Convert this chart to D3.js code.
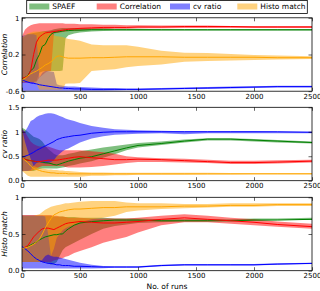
<!DOCTYPE html>
<html><head><meta charset="utf-8">
<script src="https://cdn.jsdelivr.net/npm/d3@7"></script>
<style>body{margin:0;background:#fff}svg{display:block}text{font-family:"DejaVu Sans",sans-serif}</style>
</head><body><svg id="c" width="320" height="291"></svg>
<script>
const runs = [0,25,50,75,100,125,150,175,200,225,250,275,300,325,350,375,400,450,500,600,700,800,900,1000,1200,1400,1600,1800,2000,2200,2500];
const seriesNames = ["SPAEF","Correlation","cv ratio","Histo match"];
const seriesColors = ["#008000","#ff0000","#0000ff","#ffa500"];
const panelLabels = ["Correlation","cv ratio","Histo match"];
const xTicks = [0,500,1000,1500,2000,2500];
const yTicks1 = [-0.6,0.2,1], yTickLabels1 = ["-0.6","0.2","1"];
const yTicks2 = [0,0.5,1,1.5], yTickLabels2 = ["0.0","0.5","1","1.5"];
const yTicks3 = [0,0.5,1], yTickLabels3 = ["0.0","0.5","1"];
const yDomain1 = [-0.6,1], yDomain2 = [0,1.5], yDomain3 = [0,1];

// Panel 1: Correlation
const corrSpaefMed = [-0.33,-0.3,-0.26,-0.15,-0.1,0.08,0.2,0.38,0.42,0.55,0.64,0.68,0.69,0.7,0.71,0.72,0.72,0.73,0.73,0.74,0.74,0.74,0.74,0.74,0.74,0.74,0.74,0.74,0.74,0.74,0.74];
const corrSpaefLo = [-0.4,-0.4,-0.4,-0.4,-0.4,-0.38,-0.2,-0.17,-0.16,-0.16,-0.16,-0.16,-0.16,-0.16,-0.15,0.55,0.62,0.66,0.68,0.7,0.71,0.72,0.72,0.72,0.72,0.72,0.72,0.72,0.72,0.72,0.72];
const corrSpaefHi = [0.55,0.6,0.64,0.66,0.67,0.68,0.69,0.7,0.71,0.72,0.73,0.75,0.76,0.77,0.78,0.78,0.78,0.78,0.78,0.77,0.77,0.76,0.76,0.76,0.75,0.75,0.75,0.75,0.75,0.75,0.75];
const corrCorrMed = [-0.32,-0.3,-0.28,-0.15,0.2,0.47,0.58,0.63,0.67,0.68,0.69,0.7,0.71,0.72,0.73,0.74,0.75,0.76,0.77,0.78,0.79,0.79,0.79,0.8,0.8,0.81,0.81,0.81,0.8,0.8,0.8];
const corrCorrLo = [-0.42,-0.42,-0.42,-0.42,-0.42,-0.4,-0.3,-0.25,-0.2,-0.16,-0.16,0.66,0.67,0.68,0.69,0.7,0.71,0.72,0.73,0.74,0.75,0.76,0.76,0.77,0.77,0.78,0.78,0.78,0.78,0.78,0.78];
const corrCorrHi = [0.6,0.74,0.8,0.84,0.86,0.87,0.88,0.88,0.88,0.88,0.88,0.88,0.88,0.88,0.88,0.87,0.87,0.87,0.86,0.86,0.85,0.85,0.84,0.84,0.83,0.83,0.83,0.82,0.82,0.82,0.82];
const corrCvMed = [-0.34,-0.38,-0.4,-0.42,-0.43,-0.44,-0.46,-0.47,-0.48,-0.49,-0.5,-0.51,-0.52,-0.53,-0.53,-0.54,-0.54,-0.55,-0.55,-0.56,-0.56,-0.56,-0.56,-0.56,-0.55,-0.54,-0.53,-0.52,-0.51,-0.5,-0.5];
const corrCvLo = [-0.59,-0.59,-0.59,-0.59,-0.59,-0.59,-0.59,-0.59,-0.59,-0.59,-0.59,-0.59,-0.59,-0.59,-0.59,-0.59,-0.59,-0.59,-0.59,-0.59,-0.59,-0.585,-0.58,-0.58,-0.57,-0.56,-0.55,-0.54,-0.53,-0.52,-0.52];
const corrCvHi = [0.6,0.62,0.64,0.64,0.64,0.62,-0.3,-0.2,-0.16,-0.16,-0.17,-0.18,-0.45,-0.47,-0.48,-0.49,-0.5,-0.5,-0.51,-0.52,-0.53,-0.53,-0.54,-0.54,-0.53,-0.52,-0.51,-0.5,-0.49,-0.48,-0.48];
const corrHistoMed = [-0.35,-0.32,-0.27,-0.22,-0.19,-0.16,-0.12,-0.08,-0.03,0.0,0.04,0.1,0.16,0.17,0.15,0.13,0.12,0.12,0.12,0.13,0.13,0.14,0.15,0.15,0.15,0.14,0.14,0.14,0.14,0.13,0.13];
const corrHistoLo = [-0.4,-0.4,-0.4,-0.4,-0.4,-0.45,-0.57,-0.57,-0.57,-0.57,-0.57,-0.57,-0.57,-0.57,-0.56,-0.44,-0.43,-0.43,-0.42,-0.16,-0.14,-0.12,-0.08,-0.05,-0.02,0.04,0.06,0.07,0.08,0.09,0.1];
const corrHistoHi = [0.58,0.62,0.66,0.68,0.7,0.7,0.7,0.7,0.7,0.69,0.68,0.62,0.6,0.59,0.58,0.56,0.54,0.52,0.5,0.42,0.4,0.4,0.4,0.37,0.28,0.24,0.23,0.21,0.19,0.18,0.16];

// Panel 2: cv ratio
const cvSpaefMed = [0.46,0.44,0.42,0.41,0.4,0.39,0.39,0.38,0.37,0.36,0.35,0.33,0.32,0.34,0.36,0.38,0.4,0.43,0.46,0.49,0.55,0.61,0.67,0.72,0.76,0.81,0.85,0.85,0.83,0.81,0.78];
const cvSpaefLo = [0.2,0.2,0.2,0.2,0.2,0.22,0.24,0.25,0.25,0.25,0.25,0.25,0.25,0.26,0.27,0.28,0.3,0.32,0.35,0.4,0.47,0.54,0.62,0.68,0.73,0.78,0.82,0.82,0.8,0.78,0.76];
const cvSpaefHi = [1.08,1.05,1.0,0.95,0.9,0.88,0.85,0.8,0.72,0.65,0.6,0.55,0.52,0.52,0.52,0.53,0.55,0.57,0.6,0.64,0.68,0.71,0.74,0.77,0.8,0.84,0.87,0.87,0.85,0.83,0.8];
const cvCorrMed = [0.46,0.44,0.42,0.41,0.4,0.39,0.39,0.4,0.41,0.42,0.42,0.42,0.42,0.43,0.44,0.45,0.46,0.48,0.49,0.47,0.45,0.43,0.43,0.44,0.43,0.41,0.39,0.37,0.37,0.38,0.4];
const cvCorrLo = [0.2,0.2,0.2,0.2,0.22,0.25,0.28,0.3,0.3,0.3,0.3,0.3,0.3,0.3,0.3,0.28,0.27,0.27,0.27,0.28,0.3,0.33,0.36,0.38,0.38,0.37,0.36,0.34,0.34,0.35,0.37];
const cvCorrHi = [1.05,1.0,0.9,0.8,0.75,0.72,0.7,0.7,0.7,0.7,0.68,0.66,0.64,0.62,0.62,0.62,0.62,0.62,0.62,0.6,0.58,0.55,0.5,0.48,0.46,0.45,0.43,0.41,0.41,0.42,0.43];
const cvCvMed = [0.48,0.5,0.52,0.55,0.58,0.62,0.65,0.68,0.71,0.74,0.77,0.8,0.84,0.86,0.88,0.89,0.9,0.92,0.93,0.97,0.99,1.0,1.0,1.0,1.0,1.0,1.0,1.0,1.0,1.0,0.99];
const cvCvLo = [0.2,0.2,0.2,0.22,0.3,0.36,0.38,0.36,0.35,0.36,0.38,0.42,0.5,0.55,0.6,0.64,0.66,0.72,0.78,0.86,0.91,0.94,0.95,0.96,0.97,0.95,0.97,0.97,0.97,0.97,0.97];
const cvCvHi = [1.05,1.0,1.1,1.22,1.25,1.3,1.33,1.35,1.37,1.38,1.38,1.37,1.35,1.32,1.3,1.27,1.25,1.22,1.18,1.12,1.08,1.05,1.04,1.03,1.02,1.01,1.01,1.01,1.01,1.0,1.0];
const cvHistoMed = [0.47,0.42,0.37,0.3,0.25,0.23,0.21,0.19,0.18,0.17,0.16,0.16,0.15,0.15,0.15,0.15,0.14,0.14,0.14,0.14,0.14,0.14,0.14,0.14,0.14,0.14,0.14,0.14,0.14,0.14,0.14];
const cvHistoLo = [0.2,0.15,0.1,0.08,0.08,0.08,0.08,0.08,0.08,0.08,0.08,0.08,0.08,0.08,0.08,0.08,0.08,0.08,0.08,0.1,0.1,0.11,0.11,0.12,0.12,0.12,0.125,0.125,0.13,0.13,0.13];
const cvHistoHi = [1.05,0.8,0.6,0.45,0.3,0.28,0.26,0.25,0.24,0.23,0.23,0.22,0.22,0.21,0.21,0.2,0.2,0.19,0.18,0.17,0.17,0.16,0.16,0.16,0.16,0.16,0.16,0.155,0.155,0.155,0.155];

// Panel 3: Histo match
const histoSpaefMed = [0.3,0.31,0.33,0.35,0.37,0.39,0.42,0.44,0.46,0.47,0.48,0.49,0.49,0.5,0.5,0.54,0.57,0.62,0.65,0.67,0.68,0.69,0.69,0.69,0.68,0.68,0.68,0.68,0.69,0.69,0.7];
const histoSpaefLo = [0.12,0.12,0.12,0.12,0.12,0.12,0.12,0.12,0.12,0.1,0.08,0.09,0.12,0.2,0.28,0.32,0.34,0.38,0.42,0.5,0.57,0.61,0.63,0.65,0.66,0.67,0.67,0.68,0.68,0.69,0.69];
const histoSpaefHi = [0.75,0.75,0.75,0.75,0.75,0.75,0.75,0.75,0.75,0.75,0.75,0.74,0.74,0.74,0.74,0.73,0.73,0.73,0.72,0.72,0.72,0.71,0.71,0.71,0.7,0.7,0.7,0.7,0.71,0.71,0.72];
const histoCorrMed = [0.3,0.32,0.34,0.4,0.46,0.5,0.54,0.57,0.58,0.58,0.57,0.56,0.58,0.6,0.62,0.64,0.65,0.66,0.67,0.66,0.65,0.65,0.66,0.67,0.7,0.72,0.7,0.68,0.66,0.63,0.6];
const histoCorrLo = [0.12,0.12,0.12,0.12,0.12,0.12,0.12,0.12,0.12,0.12,0.12,0.14,0.15,0.16,0.17,0.19,0.2,0.24,0.27,0.32,0.38,0.42,0.46,0.52,0.62,0.66,0.66,0.64,0.62,0.6,0.57];
const histoCorrHi = [0.76,0.76,0.76,0.76,0.76,0.76,0.76,0.76,0.76,0.76,0.76,0.75,0.75,0.74,0.74,0.73,0.72,0.72,0.72,0.71,0.71,0.71,0.71,0.72,0.75,0.77,0.75,0.72,0.7,0.67,0.64];
const histoCvMed = [0.33,0.3,0.27,0.23,0.19,0.16,0.14,0.12,0.11,0.1,0.1,0.09,0.08,0.08,0.07,0.07,0.07,0.06,0.06,0.055,0.05,0.05,0.05,0.05,0.07,0.08,0.08,0.08,0.08,0.09,0.1];
const histoCvLo = [0.03,0.03,0.03,0.03,0.03,0.03,0.03,0.03,0.03,0.03,0.03,0.03,0.03,0.03,0.03,0.03,0.03,0.03,0.03,0.03,0.035,0.04,0.04,0.04,0.06,0.07,0.07,0.07,0.07,0.08,0.09];
const histoCvHi = [0.75,0.75,0.75,0.75,0.75,0.75,0.75,0.75,0.74,0.5,0.2,0.19,0.19,0.18,0.17,0.16,0.15,0.13,0.11,0.08,0.065,0.06,0.06,0.06,0.08,0.09,0.09,0.09,0.09,0.1,0.11];
const histoHistoMed = [0.3,0.31,0.32,0.34,0.36,0.39,0.43,0.5,0.58,0.65,0.71,0.76,0.78,0.8,0.81,0.82,0.83,0.84,0.84,0.85,0.86,0.86,0.87,0.87,0.87,0.88,0.88,0.89,0.89,0.9,0.9];
const histoHistoLo = [0.12,0.12,0.12,0.12,0.12,0.12,0.12,0.15,0.2,0.22,0.2,0.3,0.45,0.5,0.55,0.58,0.6,0.63,0.66,0.7,0.72,0.75,0.8,0.82,0.84,0.85,0.86,0.87,0.87,0.88,0.88];
const histoHistoHi = [0.75,0.75,0.75,0.75,0.75,0.76,0.77,0.8,0.83,0.85,0.87,0.88,0.89,0.9,0.91,0.92,0.92,0.93,0.94,0.95,0.95,0.95,0.93,0.92,0.92,0.91,0.91,0.92,0.92,0.92,0.92];

const panels = [
  {label: panelLabels[0], domain: yDomain1, ticks: yTicks1, tickLabels: yTickLabels1,
   series: [[corrSpaefMed,corrSpaefLo,corrSpaefHi],[corrCorrMed,corrCorrLo,corrCorrHi],[corrCvMed,corrCvLo,corrCvHi],[corrHistoMed,corrHistoLo,corrHistoHi]]},
  {label: panelLabels[1], domain: yDomain2, ticks: yTicks2, tickLabels: yTickLabels2,
   series: [[cvSpaefMed,cvSpaefLo,cvSpaefHi],[cvCorrMed,cvCorrLo,cvCorrHi],[cvCvMed,cvCvLo,cvCvHi],[cvHistoMed,cvHistoLo,cvHistoHi]]},
  {label: panelLabels[2], domain: yDomain3, ticks: yTicks3, tickLabels: yTickLabels3,
   series: [[histoSpaefMed,histoSpaefLo,histoSpaefHi],[histoCorrMed,histoCorrLo,histoCorrHi],[histoCvMed,histoCvLo,histoCvHi],[histoHistoMed,histoHistoLo,histoHistoHi]]}
];

const svg = d3.select("#c");
const L = 22, R = 312, PH = 73.4;
const tops = [17.8, 107.3, 197.3];
const x = d3.scaleLinear().domain([0,2500]).range([L,R]);

panels.forEach((p, pi) => {
  const t = tops[pi], b = t + PH;
  const y = d3.scaleLinear().domain(p.domain).range([b, t]);
  const g = svg.append("g");
  const cid = "clip" + pi;
  g.append("clipPath").attr("id", cid).append("rect").attr("x", L).attr("y", t).attr("width", R-L).attr("height", PH);
  const plot = g.append("g").attr("clip-path", `url(#${cid})`);
  const area = d3.area().x((d,i)=>x(runs[i])).y0(d=>y(d[0])).y1(d=>y(d[1]));
  const line = d3.line().x((d,i)=>x(runs[i])).y(d=>y(d));
  p.series.forEach((s, si) => {
    const pts = s[1].map((lo,i)=>[lo, s[2][i]]);
    plot.append("path").attr("d", area(pts)).attr("fill", seriesColors[si]).attr("fill-opacity", 0.5).attr("stroke","none");
  });
  p.series.forEach((s, si) => {
    plot.append("path").attr("d", line(s[0])).attr("fill","none").attr("stroke", seriesColors[si]).attr("stroke-width", 1);
  });
  const fmtY = d => p.tickLabels[p.ticks.indexOf(d)];
  const ax = g.append("g").attr("transform", `translate(0,${b})`).call(d3.axisBottom(x).tickValues(xTicks).tickSize(-3.5).tickPadding(2.5).tickFormat(d3.format("d")));
  const axT = g.append("g").attr("transform", `translate(0,${t})`).call(d3.axisTop(x).tickValues(xTicks).tickSize(-3.5).tickFormat(""));
  const ay = g.append("g").attr("transform", `translate(${L},0)`).call(d3.axisLeft(y).tickValues(p.ticks).tickSize(-3.5).tickPadding(2.5).tickFormat(fmtY));
  const ayR = g.append("g").attr("transform", `translate(${R},0)`).call(d3.axisRight(y).tickValues(p.ticks).tickSize(-3.5).tickFormat(""));
  [ax, axT, ay, ayR].forEach(a => {
    a.select(".domain").remove();
    a.selectAll("line").attr("stroke","#000").attr("stroke-width",0.6);
    a.selectAll("text").attr("font-size", 7).attr("fill","#000").attr("font-family","DejaVu Sans");
  });
  g.append("rect").attr("x", L).attr("y", t).attr("width", R-L).attr("height", PH).attr("fill","none").attr("stroke","#000").attr("stroke-width",0.8);
  g.append("text").attr("transform", `translate(7,${(t+b)/2}) rotate(-90)`).attr("text-anchor","middle")
    .attr("font-size", 7.5).attr("font-style","italic").text(p.label);
});

svg.append("text").attr("x", (L+R)/2).attr("y", 289).attr("text-anchor","middle").attr("font-size", 7.5).text("No. of runs");

const lg = svg.append("g");
lg.append("rect").attr("x", 26.7).attr("y", 0.5).attr("width", 280.6).attr("height", 13).attr("fill","#fff").attr("stroke","#000").attr("stroke-width",0.8);
const swX = [29.3, 96.7, 170, 237.3];
seriesNames.forEach((n, i) => {
  lg.append("rect").attr("x", swX[i]).attr("y", 3.5).attr("width", 20).attr("height", 6).attr("fill", seriesColors[i]).attr("fill-opacity", 0.5);
  lg.append("text").attr("x", swX[i] + 23).attr("y", 9.3).attr("font-size", 7.5).text(n);
});
</script></body></html>
